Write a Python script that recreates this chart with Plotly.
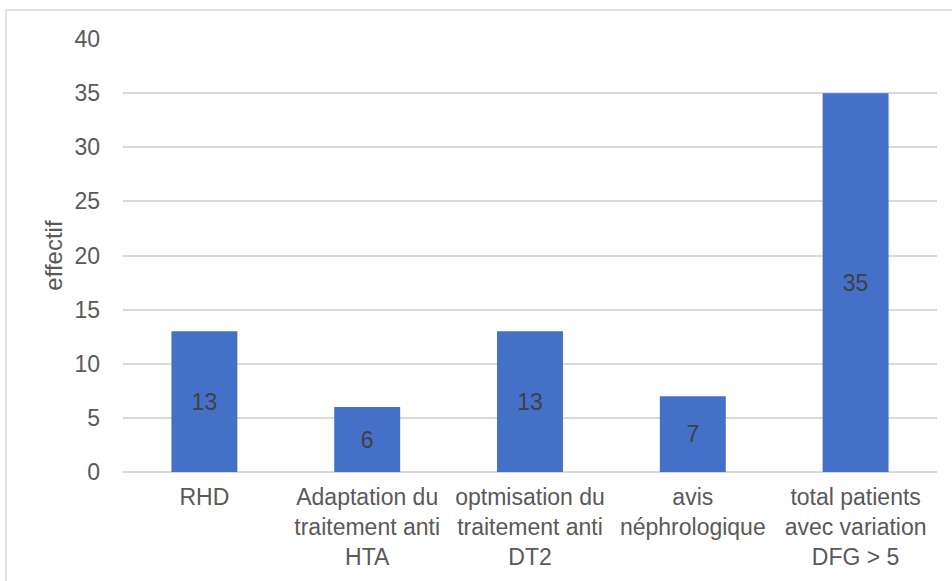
import plotly.graph_objects as go

categories = [
    "RHD",
    "Adaptation du<br>traitement anti<br>HTA",
    "optmisation du<br>traitement anti<br>DT2",
    "avis<br>néphrologique",
    "total patients<br>avec variation<br>DFG > 5",
]
effectifs = [13, 6, 13, 7, 35]
y_ticks = [0, 5, 10, 15, 20, 25, 30, 35, 40]

FONT = "Liberation Sans, Arial, sans-serif"

fig = go.Figure(
    go.Bar(
        x=categories,
        y=effectifs,
        text=[str(v) for v in effectifs],
        textposition="inside",
        insidetextanchor="middle",
        textangle=0,
        textfont=dict(family=FONT, size=23, color="#404040"),
        marker=dict(color="#4470c8", line=dict(width=0)),
        width=0.405,
        hoverinfo="skip",
    )
)

fig.update_layout(
    width=952,
    height=581,
    margin=dict(l=123, r=15, t=39, b=109),
    paper_bgcolor="white",
    plot_bgcolor="white",
    font=dict(family=FONT, size=23, color="#595959"),
    showlegend=False,
    xaxis=dict(
        showgrid=False,
        showline=False,
        zeroline=False,
        ticks="",
        ticklabelstandoff=9,
        tickfont=dict(family=FONT, size=23, color="#595959"),
        tickangle=0,
    ),
    yaxis=dict(
        range=[0, 40],
        tickvals=y_ticks,
        showgrid=True,
        gridcolor="#d9d9d9",
        gridwidth=1.5,
        zeroline=True,
        zerolinecolor="#d9d9d9",
        zerolinewidth=1.5,
        showline=False,
        ticks="",
        ticklabelstandoff=22,
        tickfont=dict(family=FONT, size=23, color="#595959"),
        title=dict(
            text="effectif",
            font=dict(family=FONT, size=24, color="#595959"),
            standoff=5,
        ),
    ),
    shapes=[
        dict(
            type="rect",
            xref="paper",
            yref="paper",
            x0=-0.1437,
            x1=1.03,
            y0=-0.27,
            y1=1.067,
            line=dict(color="#d9d9d9", width=1.5),
            fillcolor="rgba(0,0,0,0)",
            layer="below",
        )
    ],
)

fig.write_html("out.html")
